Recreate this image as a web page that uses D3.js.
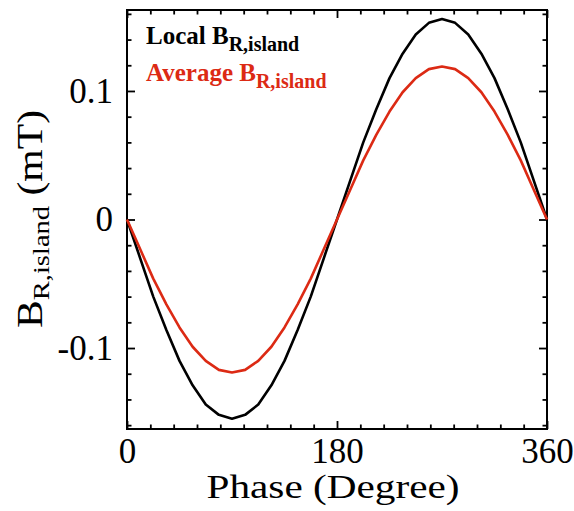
<!DOCTYPE html>
<html><head><meta charset="utf-8">
<script src="https://cdn.jsdelivr.net/npm/d3@7"></script>
<style>html,body{margin:0;padding:0;background:#fff;} svg{display:block;}</style>
</head><body><svg id="chart" width="574" height="511"></svg>
<script>
// ---- data ----
const phase = [0, 11.25, 22.5, 33.75, 45, 56.25, 67.5, 78.75, 90, 101.25, 112.5, 123.75, 135, 146.25, 157.5, 168.75,
  180, 191.25, 202.5, 213.75, 225, 236.25, 247.5, 258.75, 270, 281.25, 292.5, 303.75, 315, 326.25, 337.5, 348.75, 360];
const localB = [0, -0.030, -0.060, -0.086, -0.110, -0.129, -0.144, -0.152, -0.155, -0.152, -0.144, -0.129, -0.110, -0.086, -0.060, -0.030,
  0, 0.030, 0.060, 0.086, 0.110, 0.129, 0.144, 0.153, 0.156, 0.153, 0.144, 0.129, 0.110, 0.086, 0.060, 0.030, 0];
const averageB = [0, -0.023, -0.046, -0.066, -0.084, -0.099, -0.110, -0.117, -0.119, -0.117, -0.110, -0.099, -0.084, -0.066, -0.046, -0.023,
  0, 0.023, 0.046, 0.066, 0.084, 0.099, 0.110, 0.117, 0.119, 0.117, 0.110, 0.099, 0.084, 0.066, 0.046, 0.023, 0];
const seriesNames = ["Local", "Average"];
const xMajorTicks = [0, 180, 360];
const xTickLabels = ["0", "180", "360"];
const xMinorTicks = [20, 40, 60, 80, 100, 120, 140, 160, 200, 220, 240, 260, 280, 300, 320, 340];
const yMajorTicks = [-0.1, 0, 0.1];
const yTickLabels = ["-0.1", "0", "0.1"];
const yMinorTicks = [-0.16, -0.14, -0.12, -0.08, -0.06, -0.04, -0.02, 0.02, 0.04, 0.06, 0.08, 0.12, 0.14, 0.16];
const xTitle = "Phase (Degree)";

// ---- layout ----
const L = 127, R = 547, T = 10, B = 429;
const svg = d3.select("#chart");
const x = d3.scaleLinear().domain([0, 360]).range([L, R]);
const y = d3.scaleLinear().domain([-0.163, 0.163]).range([B, T]);
const red = "#dc2a14";
const serif = "'Liberation Serif', 'Times New Roman', serif";

function styleAxis(g) {
  g.select(".domain").remove();
  g.selectAll(".tick line").attr("stroke", "#000").attr("stroke-width", 1.8);
  g.attr("font-family", serif).attr("font-size", 35);
  g.selectAll(".tick text").attr("fill", "#000");
}

// bottom
svg.append("g").attr("transform", `translate(0,${B})`)
  .call(d3.axisBottom(x).tickValues(xMajorTicks).tickSize(-8).tickPadding(9).tickFormat((d, i) => xTickLabels[i]))
  .call(styleAxis);
svg.append("g").attr("transform", `translate(0,${B})`)
  .call(d3.axisBottom(x).tickValues(xMinorTicks).tickSize(-4.5).tickFormat(""))
  .call(styleAxis);
// top
svg.append("g").attr("transform", `translate(0,${T})`)
  .call(d3.axisTop(x).tickValues(xMajorTicks).tickSize(-8).tickFormat(""))
  .call(styleAxis);
svg.append("g").attr("transform", `translate(0,${T})`)
  .call(d3.axisTop(x).tickValues(xMinorTicks).tickSize(-4.5).tickFormat(""))
  .call(styleAxis);
// left
svg.append("g").attr("transform", `translate(${L},0)`)
  .call(d3.axisLeft(y).tickValues(yMajorTicks).tickSize(-8).tickPadding(14).tickFormat((d, i) => yTickLabels[i]))
  .call(styleAxis);
svg.append("g").attr("transform", `translate(${L},0)`)
  .call(d3.axisLeft(y).tickValues(yMinorTicks).tickSize(-4.5).tickFormat(""))
  .call(styleAxis);
// right
svg.append("g").attr("transform", `translate(${R},0)`)
  .call(d3.axisRight(y).tickValues(yMajorTicks).tickSize(-8).tickFormat(""))
  .call(styleAxis);
svg.append("g").attr("transform", `translate(${R},0)`)
  .call(d3.axisRight(y).tickValues(yMinorTicks).tickSize(-4.5).tickFormat(""))
  .call(styleAxis);

// frame
svg.append("rect").attr("x", L).attr("y", T).attr("width", R - L).attr("height", B - T)
  .attr("fill", "none").attr("stroke", "#000").attr("stroke-width", 2);

// lines
const line = d3.line().x((d) => x(d[0])).y((d) => y(d[1]));
const series = [
  { name: seriesNames[0], values: localB, color: "#000" },
  { name: seriesNames[1], values: averageB, color: red }
];
svg.append("g").selectAll("path").data(series).join("path")
  .attr("d", (s) => line(phase.map((p, i) => [p, s.values[i]])))
  .attr("fill", "none").attr("stroke", (s) => s.color).attr("stroke-width", 2.6)
  .attr("stroke-linejoin", "round");

// legend
const leg = svg.append("g").attr("font-family", serif).attr("font-weight", "bold");
series.forEach((s, i) => {
  const t = leg.append("text").attr("x", 146).attr("y", i === 0 ? 43.5 : 80.5).attr("fill", s.color).attr("font-size", 25);
  t.append("tspan").text(s.name + " B");
  t.append("tspan").attr("font-size", 20).attr("dy", 7).text("R,island");
});

// x title
svg.append("text").attr("transform", `translate(333,498) scale(1.25,1)`)
  .attr("text-anchor", "middle").attr("font-family", serif).attr("font-size", 33).attr("fill", "#000")
  .text(xTitle);

// y title
const yt = svg.append("text").attr("transform", `translate(42,219) rotate(-90) scale(1.19,1)`)
  .attr("text-anchor", "middle").attr("font-family", serif).attr("font-size", 35).attr("fill", "#000");
yt.append("tspan").text("B");
yt.append("tspan").attr("font-size", 24).attr("dy", 7).text("R,island");
yt.append("tspan").attr("dy", -7).text(" (mT)");
</script></body></html>
